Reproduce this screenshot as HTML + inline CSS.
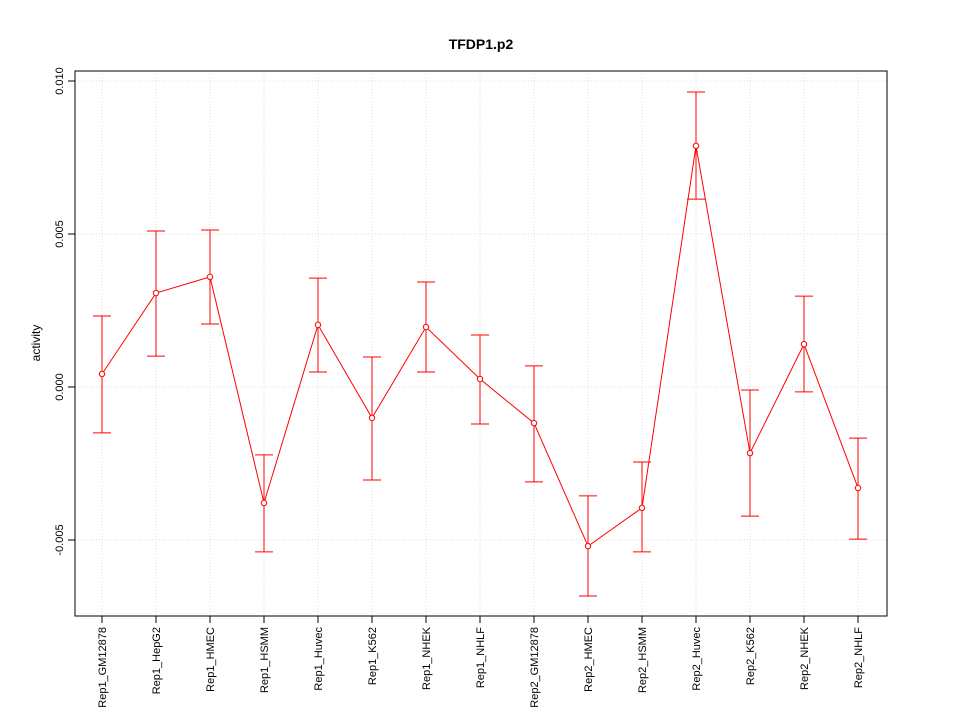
<!DOCTYPE html>
<html><head><meta charset="utf-8"><style>
body{margin:0;background:#fff;}
svg text{font-family:"Liberation Sans",sans-serif;}
</style></head><body>
<svg id="chart" width="960" height="720" xmlns="http://www.w3.org/2000/svg"></svg>
<script>
const categories=["Rep1_GM12878","Rep1_HepG2","Rep1_HMEC","Rep1_HSMM","Rep1_Huvec","Rep1_K562","Rep1_NHEK","Rep1_NHLF","Rep2_GM12878","Rep2_HMEC","Rep2_HSMM","Rep2_Huvec","Rep2_K562","Rep2_NHEK","Rep2_NHLF"];
const activity=[0.000425,0.00307,0.0036,-0.00379,0.00203,-0.00101,0.00196,0.00026,-0.00118,-0.0052,-0.00395,0.00788,-0.00216,0.0014,-0.0033];
const upper=[0.00232,0.0051,0.00513,-0.00222,0.00356,0.00098,0.00343,0.0017,0.00069,-0.00356,-0.00245,0.00964,-0.0001,0.00297,-0.00167];
const lower=[-0.0015,0.00101,0.00206,-0.00539,0.00049,-0.00304,0.00049,-0.00121,-0.0031,-0.00683,-0.00539,0.00614,-0.00422,-0.00016,-0.00497];
const yTicks=[-0.005,0.000,0.005,0.010];
const yTickLabels=["-0.005","0.000","0.005","0.010"];

const svg=document.getElementById('chart');
const NS="http://www.w3.org/2000/svg";
const L=75,R=887,T=71,B=616;
function xs(i){return 102+i*54;}
function ys(v){return 387-v*30600;}
function mk(tag,attrs,parent){const e=document.createElementNS(NS,tag);for(const k in attrs)e.setAttribute(k,attrs[k]);(parent||svg).appendChild(e);return e;}

categories.forEach((c,i)=>{const g=mk('line',{x1:xs(i),x2:xs(i),y1:T,y2:B,stroke:'#dcdcdc','stroke-dasharray':'1,2'});

});
yTicks.forEach(v=>{const g=mk('line',{x1:L,x2:R,y1:ys(v),y2:ys(v),stroke:'#dcdcdc','stroke-dasharray':'1,2'});

});

const fr=mk('rect',{x:L,y:T,width:R-L,height:B-T,fill:'none',stroke:'#000'});



const t=mk('text',{x:481,y:49,'text-anchor':'middle','font-size':14,'font-weight':'bold'});t.textContent='TFDP1.p2';


const yt=mk('text',{x:0,y:0,'text-anchor':'middle','font-size':12,transform:'translate(40,343) rotate(-90)'});yt.textContent='activity';



yTicks.forEach((v,i)=>{mk('line',{x1:L-7,x2:L,y1:ys(v),y2:ys(v),stroke:'#000'});
const tx=mk('text',{x:0,y:0,'text-anchor':'middle','font-size':11,transform:`translate(${L-12},${ys(v)}) rotate(-90)`});tx.textContent=yTickLabels[i];

});

categories.forEach((c,i)=>{mk('line',{x1:xs(i),x2:xs(i),y1:B,y2:B+7,stroke:'#000'});
const tx=mk('text',{x:0,y:0,'text-anchor':'end','font-size':11,transform:`translate(${xs(i)+4},${B+11}) rotate(-90)`});tx.textContent=c;

});

categories.forEach((c,i)=>{const g=mk('g',{stroke:'#ff0000'});


mk('line',{x1:xs(i),x2:xs(i),y1:ys(upper[i]),y2:ys(lower[i])},g);
mk('line',{x1:xs(i)-9,x2:xs(i)+9,y1:ys(upper[i]),y2:ys(upper[i])},g);
mk('line',{x1:xs(i)-9,x2:xs(i)+9,y1:ys(lower[i]),y2:ys(lower[i])},g);});

const pl=mk('polyline',{points:activity.map((v,i)=>xs(i)+','+ys(v)).join(' '),fill:'none',stroke:'#ff0000'});


activity.forEach((v,i)=>{const p=mk('circle',{cx:xs(i),cy:ys(v),r:2.7,fill:'#fff',stroke:'#ff0000'});

});
</script>
</body></html>
